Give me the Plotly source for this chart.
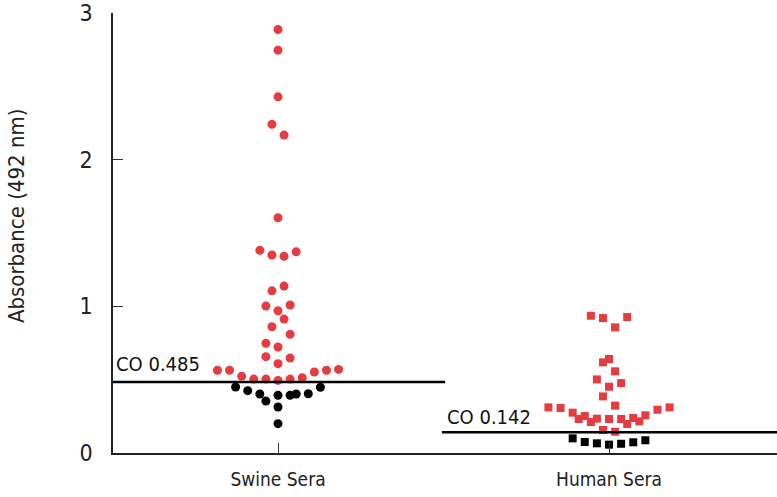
import plotly.graph_objects as go

# ---------------- data ----------------
categories = ["Swine Sera", "Human Sera"]
cutoffs = [0.485, 0.142]
cutoff_labels = ["CO 0.485", "CO 0.142"]
y_ticks = [0, 1, 2, 3]
y_title = "Absorbance (492 nm)"

# Swine sera absorbance values
swine_values = [2.888, 2.747, 2.429, 2.241, 2.168,
                1.604, 1.382, 1.350, 1.341, 1.372, 1.106, 1.138,
                1.002, 1.009, 0.970, 0.913, 0.861, 0.809, 0.748, 0.723, 0.657, 0.648, 0.609,
                0.564, 0.564, 0.523, 0.504, 0.504, 0.495, 0.504, 0.513, 0.552, 0.564, 0.570,
                0.450, 0.425, 0.402, 0.354, 0.393, 0.314, 0.200, 0.393, 0.402, 0.404, 0.448]
# swarm column (in half-marker steps) for each swine point
swine_dodge = [0, 0, 0, -1, 1,
               0, -3, -1, 1, 3, -1, 1,
               -2, 2, 0, 1, -1, 2, -2, 0, -2, 2, 0,
               -10, -8, -6, -4, -2, 0, 2, 4, 6, 8, 10,
               -7, -5, -3, -2, 0, 0, 0, 2, 3, 5, 7]

# Human sera absorbance values
human_values = [0.936, 0.920, 0.857, 0.927,
                0.618, 0.641, 0.557, 0.502, 0.477, 0.452, 0.386, 0.323,
                0.311, 0.307, 0.275, 0.232, 0.252, 0.211, 0.234, 0.232, 0.232,
                0.198, 0.239, 0.216, 0.257, 0.295, 0.311, 0.157, 0.145,
                0.100, 0.075, 0.066, 0.057, 0.063, 0.073, 0.087]
human_dodge = [-3, -1, 1, 3,
               -1, 0, 1, -2, 2, 0, -1, 1,
               -10, -8, -6, -5, -4, -3, -2, 0, 2,
               3, 4, 5, 6, 8, 10, -1, 1,
               -6, -4, -2, 0, 2, 4, 6]

# ---------------- style ----------------
RED = "#E63B3F"
BLACK = "#000000"
FONT = "DejaVu Sans Condensed, Liberation Sans Narrow, sans-serif"
DODGE_STEP = 0.0183
X_MIN, X_MAX = -0.4985, 1.5075

fig = go.Figure()

groups = [
    (swine_values, swine_dodge, "circle", 9),
    (human_values, human_dodge, "square", 8),
]
for i, (vals, dodge, sym, size) in enumerate(groups):
    xs = [i + d * DODGE_STEP for d in dodge]
    colors = [RED if v > cutoffs[i] else BLACK for v in vals]
    fig.add_trace(go.Scatter(
        x=xs, y=vals, mode="markers",
        marker=dict(symbol=sym, size=size, color=colors, line=dict(width=0)),
        showlegend=False, hoverinfo="y",
    ))

# cut-off lines and labels
line_spans = [(X_MIN, 0.505), (0.495, X_MAX)]
label_x = [-0.496, 0.505]
label_shift = [4, 1]
for i, c in enumerate(cutoffs):
    fig.add_shape(type="line", xref="x", yref="y",
                  x0=line_spans[i][0], x1=line_spans[i][1], y0=c, y1=c,
                  line=dict(color="black", width=2.5))
    fig.add_annotation(x=label_x[i], y=c, xref="x", yref="y",
                       text=cutoff_labels[i], showarrow=False,
                       xanchor="left", yanchor="bottom", yshift=label_shift[i],
                       font=dict(family=FONT, size=20, color="#111"))

# y-axis title as rotated annotation
fig.add_annotation(x=-0.145, y=0.54, xref="paper", yref="paper",
                   text=y_title, textangle=-90, showarrow=False,
                   xanchor="center", yanchor="middle",
                   font=dict(family=FONT, size=22, color="#222"))

fig.update_layout(
    width=777, height=497,
    margin=dict(l=113, r=0, t=13, b=44),
    paper_bgcolor="white", plot_bgcolor="white",
    font=dict(family=FONT, size=19, color="#222"),
    xaxis=dict(
        range=[X_MIN, X_MAX], tickvals=[0, 1], ticktext=categories,
        ticks="inside", ticklen=10, tickcolor="#333", tickwidth=1,
        showline=True, linecolor="#222", linewidth=1.5,
        showgrid=False, zeroline=False, ticklabelstandoff=8,
        tickfont=dict(family=FONT, size=19, color="#222"),
    ),
    yaxis=dict(
        range=[0, 3.0005], tickvals=y_ticks,
        ticks="inside", ticklen=10, tickcolor="#333", tickwidth=1,
        showline=True, linecolor="#222", linewidth=1.5,
        showgrid=False, zeroline=False, ticklabelstandoff=14,
        ticklabeloverflow="allow",
        tickfont=dict(family=FONT, size=23, color="#222"),
    ),
)

fig.write_html("out.html",
               config={"displayModeBar": False},
               post_script="document.body.style.margin='0';document.body.style.padding='0';")
